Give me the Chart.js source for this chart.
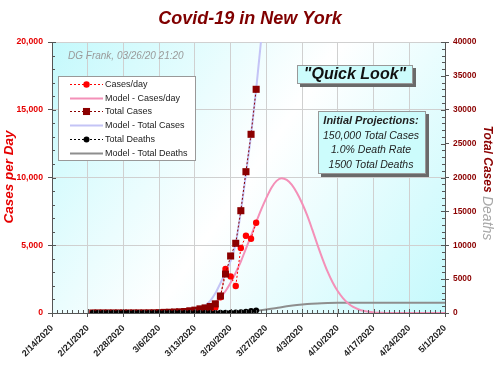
<!DOCTYPE html>
<html><head><meta charset="utf-8">
<script src="https://cdn.jsdelivr.net/npm/chart.js@4"></script>
<style>html,body{margin:0;padding:0;background:#fff;}#wrap{width:500px;height:366px;}</style>
</head><body><div id="wrap"><canvas id="c" width="500" height="366"></canvas></div>
<script>
// ---------- DATA ----------
const startDate = '2/14/2020';
const tickLabels = ['2/14/2020','2/21/2020','2/28/2020','3/6/2020','3/13/2020','3/20/2020','3/27/2020','4/3/2020','4/10/2020','4/17/2020','4/24/2020','5/1/2020'];

const obsDates = ['2/22/2020','2/23/2020','2/24/2020','2/25/2020','2/26/2020','2/27/2020','2/28/2020','2/29/2020',
  '3/1/2020','3/2/2020','3/3/2020','3/4/2020','3/5/2020','3/6/2020','3/7/2020','3/8/2020','3/9/2020','3/10/2020',
  '3/11/2020','3/12/2020','3/13/2020','3/14/2020','3/15/2020','3/16/2020','3/17/2020','3/18/2020','3/19/2020','3/20/2020',
  '3/21/2020','3/22/2020','3/23/2020','3/24/2020','3/25/2020'];
const casesPerDay = [0,0,0,0,0,0,0,0, 1,0,1,9,11,22,45,17,36,31, 44,109,95,189,140,210,390,1159,3247,2700, 1990,4800,5705,5483,6664];
const totalCases  = [0,0,0,0,0,0,0,0, 1,1,2,11,22,44,89,106,142,173, 217,326,421,610,750,960,1350,2509,5756,8413, 10288,15100,20856,26376,33018];
const totalDeaths = [0,0,0,0,0,0,0,0, 0,0,0,0,0,0,0,0,0,0, 0,0,0,2,3,7,13,20,35,50, 75,120,180,280,385];

const modelCasesDates = ['3/8/2020','3/9/2020','3/10/2020','3/11/2020','3/12/2020','3/13/2020','3/14/2020','3/15/2020','3/16/2020','3/17/2020',
  '3/18/2020','3/19/2020','3/20/2020','3/21/2020','3/22/2020','3/23/2020','3/24/2020','3/25/2020','3/26/2020','3/27/2020',
  '3/28/2020','3/29/2020','3/30/2020','3/31/2020','4/1/2020','4/2/2020','4/3/2020','4/4/2020','4/5/2020','4/6/2020',
  '4/7/2020','4/8/2020','4/9/2020','4/10/2020','4/11/2020','4/12/2020','4/13/2020','4/14/2020','4/15/2020','4/16/2020',
  '4/17/2020','4/18/2020','4/19/2020','4/20/2020','5/1/2020'];
const modelCasesPerDay = [5,13,25,46,80,135,220,350,530,800,
  1130,1620,2230,2970,3800,4750,5700,6700,7650,8500,
  9250,9750,9950,9820,9450,8850,8100,7200,6150,5050,
  4000,3050,2250,1600,1100,720,450,280,160,90,
  45,20,8,0,0];

const modelTotalDates = ['3/5/2020','3/6/2020','3/7/2020','3/8/2020','3/9/2020','3/10/2020','3/11/2020','3/12/2020','3/13/2020','3/14/2020',
  '3/15/2020','3/16/2020','3/17/2020','3/18/2020','3/19/2020','3/20/2020','3/21/2020','3/22/2020','3/23/2020','3/24/2020',
  '3/25/2020','3/26/2020','3/27/2020'];
const modelTotalCases = [20,30,40,55,70,90,150,250,400,650,
  1100,1800,2900,4400,6000,7700,10300,15000,20500,26300,
  33000,40500,48500];

const modelDeathDates = ['3/14/2020','3/17/2020','3/20/2020','3/23/2020','3/25/2020','3/27/2020','3/29/2020','3/31/2020','4/2/2020','4/4/2020','4/6/2020','4/8/2020','4/10/2020','4/12/2020','5/1/2020'];
const modelTotalDeaths = [10,30,80,200,330,520,750,980,1180,1330,1420,1470,1495,1500,1500];

const seriesNames = ['Cases/day','Model - Cases/day','Total Cases','Model - Total Cases','Total Deaths','Model - Total Deaths'];
const titleText = 'Covid-19 in New York';
const stampText = 'DG Frank, 03/26/20 21:20';
const quickText = '"Quick Look"';
const projTitle = 'Initial Projections:';
const projLines = ['150,000 Total Cases','1.0% Death Rate','1500 Total Deaths'];

// ---------- helpers ----------
function dayIdx(s){const p=s.split('/').map(Number);const q=startDate.split('/').map(Number);
  return Math.round((Date.UTC(p[2],p[0]-1,p[1])-Date.UTC(q[2],q[0]-1,q[1]))/86400000);}
function pts(dates,vals){return dates.map((d,i)=>({x:dayIdx(d),y:vals[i]}));}

const FF = '"Liberation Sans", Arial, sans-serif';
const RED='#ff0000', DRED='#8b0000', PINK='#f490b8', LAV='#c4c4f6', GRAY='#8e8e8e';

const datasets = [
  {label:seriesNames[4],data:pts(obsDates,totalDeaths),yAxisID:'y2',borderColor:'#000',backgroundColor:'#000',borderWidth:1,borderDash:[2,2],
   pointRadius:3,pointStyle:'circle',pointBorderWidth:0,order:0},
  {label:seriesNames[2],data:pts(obsDates,totalCases),yAxisID:'y2',borderColor:DRED,backgroundColor:DRED,borderWidth:1,borderDash:[2,2],
   pointRadius:5,pointStyle:'rect',pointBorderWidth:0,order:1},
  {label:seriesNames[0],data:pts(obsDates,casesPerDay),yAxisID:'y',borderColor:RED,backgroundColor:RED,borderWidth:1,borderDash:[2,2],
   pointRadius:3.2,pointStyle:'circle',pointBorderWidth:0,order:2},
  {label:seriesNames[3],data:pts(modelTotalDates,modelTotalCases),yAxisID:'y2',borderColor:LAV,borderWidth:2,pointRadius:0,cubicInterpolationMode:'monotone',order:3},
  {label:seriesNames[1],data:pts(modelCasesDates,modelCasesPerDay),yAxisID:'y',borderColor:PINK,borderWidth:2,pointRadius:0,cubicInterpolationMode:'monotone',order:4},
  {label:seriesNames[5],data:pts(modelDeathDates,modelTotalDeaths),yAxisID:'y2',borderColor:GRAY,borderWidth:2,pointRadius:0,cubicInterpolationMode:'monotone',order:5}
];

// ---------- plugin ----------
const deco = {
  id:'deco',
  beforeDraw(chart){
    const {ctx,chartArea:a}=chart;
    const g=ctx.createLinearGradient(a.left,a.top,a.right,a.bottom);
    g.addColorStop(0,'#c4f9fc');g.addColorStop(0.5,'#ffffff');g.addColorStop(1,'#c4f9fc');
    ctx.save();ctx.fillStyle=g;ctx.fillRect(a.left,a.top,a.right-a.left,a.bottom-a.top);ctx.restore();
  },
  afterDraw(chart){
    const {ctx,chartArea:a,scales}=chart;
    ctx.save();
    // minor ticks
    ctx.strokeStyle='#555';ctx.lineWidth=1;ctx.beginPath();
    const xs=scales.x, ys=scales.y, y2=scales.y2;
    for(let d=xs.min; d<=xs.max; d++){const px=Math.round(xs.getPixelForValue(d))+0.5; const L=(d%7===0)?4:3;
      ctx.moveTo(px,a.bottom);ctx.lineTo(px,a.bottom-L);}
    for(let v=ys.min; v<=ys.max; v+=1000){const py=Math.round(ys.getPixelForValue(v))+0.5; const L=(v%5000===0)?4:3;
      ctx.moveTo(a.left,py);ctx.lineTo(a.left+L,py);}
    for(let v=y2.min; v<=y2.max; v+=1000){const py=Math.round(y2.getPixelForValue(v))+0.5; const L=(v%5000===0)?4:3;
      ctx.moveTo(a.right,py);ctx.lineTo(a.right-L,py);}
    ctx.stroke();

    // title
    ctx.fillStyle='#800000';ctx.font='bold italic 18px '+FF;ctx.textAlign='center';ctx.textBaseline='middle';
    ctx.fillText(titleText,250,19);

    // stamp
    ctx.fillStyle='#9a9a9a';ctx.font='italic 10px '+FF;ctx.textAlign='left';
    ctx.fillText(stampText,68,56);

    // left axis title
    ctx.save();ctx.translate(9,177);ctx.rotate(-Math.PI/2);
    ctx.fillStyle='#e60000';ctx.font='bold italic 13.5px '+FF;ctx.textAlign='center';ctx.fillText('Cases per Day',0,0);ctx.restore();

    // right axis title
    ctx.save();ctx.translate(487,183);ctx.rotate(Math.PI/2);
    ctx.font='bold italic 12px '+FF;const w1=ctx.measureText('Total Cases ').width;
    ctx.font='italic 14px '+FF;const w2=ctx.measureText('Deaths').width;
    let sx=-(w1+w2)/2;ctx.textAlign='left';
    ctx.fillStyle='#8b0000';ctx.font='bold italic 12px '+FF;ctx.fillText('Total Cases',sx,0);
    ctx.fillStyle='#a8a8a8';ctx.font='italic 14px '+FF;ctx.fillText('Deaths',sx+w1,0);
    ctx.restore();

    // legend
    const lx=58.5,ly=76.5,lw=137,lh=84;
    ctx.fillStyle='#fff';ctx.fillRect(lx,ly,lw,lh);ctx.strokeStyle='#999';ctx.lineWidth=1;ctx.strokeRect(lx,ly,lw,lh);
    const leg=[datasets[2],datasets[4],datasets[1],datasets[3],datasets[0],datasets[5]];
    leg.forEach((ds,i)=>{
      const yy=Math.round(84+i*13.7)+0.5;
      ctx.save();ctx.strokeStyle=ds.borderColor;ctx.lineWidth=ds.borderDash?1:2;ctx.setLineDash(ds.borderDash||[]);
      ctx.beginPath();ctx.moveTo(70,yy);ctx.lineTo(103,yy);ctx.stroke();ctx.restore();
      if(ds.pointRadius>0){ctx.fillStyle=ds.backgroundColor;
        if(ds.pointStyle==='rect'){const s=ds.pointRadius*Math.SQRT1_2;ctx.fillRect(86.5-s,yy-s,2*s,2*s);}
        else{ctx.beginPath();ctx.arc(86.5,yy,ds.pointRadius,0,Math.PI*2);ctx.fill();}}
      ctx.fillStyle='#222';ctx.font='9px '+FF;ctx.textAlign='left';ctx.textBaseline='middle';
      ctx.fillText(ds.label,105,yy);
    });

    // Quick look box
    function box(x,y,w,h){ctx.fillStyle='#6a6a6a';ctx.fillRect(x+3,y+3,w,h);
      ctx.fillStyle='#ccfcfc';ctx.fillRect(x,y,w,h);ctx.strokeStyle='#999';ctx.strokeRect(x+0.5,y+0.5,w-1,h-1);}
    box(297,65,116,19);
    ctx.fillStyle='#111';ctx.font='bold italic 16px '+FF;ctx.textAlign='center';ctx.textBaseline='middle';
    ctx.fillText(quickText,355,75);
    box(318,111,108,63);
    ctx.fillStyle='#222';ctx.font='bold italic 11px '+FF;ctx.fillText(projTitle,371,121);
    ctx.font='italic 10.5px '+FF;
    projLines.forEach((t,i)=>ctx.fillText(t,371,136+i*14.5));
    ctx.restore();
  }
};

new Chart(document.getElementById('c'),{
  type:'line',
  data:{datasets},
  options:{
    responsive:false,animation:false,devicePixelRatio:1,
    layout:{padding:{top:42,left:0,right:0,bottom:0}},
    plugins:{legend:{display:false},tooltip:{enabled:false},title:{display:false}},
    scales:{
      x:{type:'linear',min:0,max:77,
        ticks:{stepSize:7,autoSkip:false,maxRotation:45,minRotation:45,padding:6,color:'#222',font:{family:FF,size:9,weight:'bold'},
          callback:(v)=>tickLabels[Math.round(v/7)]},
        grid:{color:'#d0d0d0',tickColor:'#555',tickLength:4},border:{color:'#555'},
        afterFit:(s)=>{s.height=53;}},
      y:{position:'left',min:0,max:20000,
        ticks:{stepSize:5000,padding:5,color:'#e60000',font:{family:FF,size:8.7,weight:'bold'},callback:(v)=>v.toLocaleString('en-US')},
        grid:{color:'#d0d0d0',tickColor:'#555',tickLength:4},border:{color:'#555'},
        afterFit:(s)=>{s.width=52;}},
      y2:{position:'right',min:0,max:40000,
        ticks:{stepSize:5000,padding:4,color:'#8b0000',font:{family:FF,size:8.4,weight:'bold'},callback:(v)=>String(v)},
        grid:{drawOnChartArea:false,tickColor:'#555',tickLength:4},border:{color:'#555'},
        afterFit:(s)=>{s.width=55;}}
    }
  },
  plugins:[deco]
});
</script></body></html>
